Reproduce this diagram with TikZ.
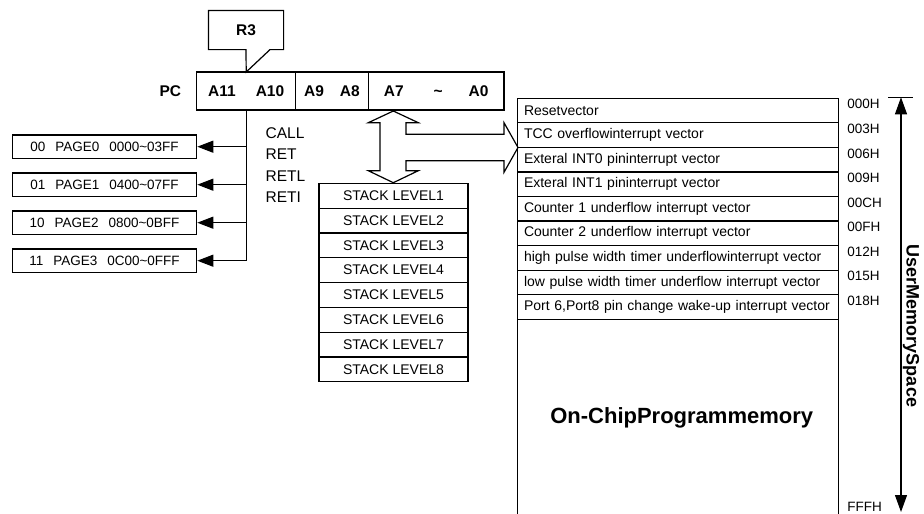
\documentclass[tikz,border=0pt]{standalone}
\usepackage{fontspec}
\setmainfont{Liberation Sans}
\usetikzlibrary{positioning,arrows.meta}

\begin{document}
\begin{tikzpicture}[
  x=1pt, y=-1pt,
  line width=1.2pt,
  reg/.style={draw, minimum height=38pt, inner sep=0pt, outer sep=0pt,
              font=\fontsize{15.5}{18}\selectfont\bfseries},
  reglbl/.style={inner sep=0pt, font=\fontsize{15.5}{18}\selectfont\bfseries},
  pagebox/.style={draw, minimum width=184.4pt, minimum height=23.3pt, inner sep=0pt,
              font=\fontsize{13.5}{15}\selectfont},
  stackrow/.style={draw, minimum width=149pt, minimum height=24.8pt, inner sep=0pt,
              outer sep=0pt, font=\fontsize{14}{16}\selectfont},
  vecrow/.style={draw, text width=307.6pt, inner xsep=6.7pt, inner ysep=0pt,
              minimum height=24.55pt, outer sep=0pt, align=left,
              font=\fontsize{14}{16}\selectfont},
  addr/.style={anchor=west, inner sep=0pt, font=\fontsize{13.5}{16}\selectfont},
  arr/.style={-{Triangle[length=16pt,width=12pt]}},
  uarr/.style={{Triangle[length=17pt,width=12pt]}-{Triangle[length=17pt,width=12pt]}},
  node distance=0pt]

\useasboundingbox (0,0) rectangle (924,514);

% program counter
\node[reg, minimum width=99pt, anchor=north west] (f1) at (196.7,72) {A11\hspace{20pt}A10};
\node[reg, minimum width=72.6pt, right=of f1] (f2) {A9\hspace{16pt}A8};
\node[reg, minimum width=135.7pt, right=of f2] (f3) {A7\hspace{30pt}\textasciitilde\hspace{26pt}A0};
\node[reglbl, left=15pt of f1] (pclbl) {PC};

% R3 callout
\node[reglbl, minimum width=74pt, minimum height=38pt] (r3) at (246,30) {R3};
\draw (r3.south west) -- (r3.north west) -- (r3.north east) -- (r3.south east)
  -- ([xshift=24pt]r3.south) -- (f1.north) -- (r3.south) -- cycle;

% pages
\node[pagebox] (pg0) at (104.5,146.7) {00\hspace{10pt}PAGE0\hspace{10pt}0000\textasciitilde 03FF};
\node[pagebox, below=13.5pt of pg0] (pg1) {01\hspace{10pt}PAGE1\hspace{10pt}0400\textasciitilde 07FF};
\node[pagebox, below=13.5pt of pg1] (pg2) {10\hspace{10pt}PAGE2\hspace{10pt}0800\textasciitilde 0BFF};
\node[pagebox, below=13.5pt of pg2] (pg3) {11\hspace{10pt}PAGE3\hspace{10pt}0C00\textasciitilde 0FFF};

\node[anchor=west, inner sep=0pt, align=left,
      font=\fontsize{15.5}{21.3}\selectfont] (instr) at (265,165) {CALL\\RET\\RETL\\RETI};

% stack
\node[stackrow, anchor=north] (st1) at (393.5,183.3) {STACK LEVEL1};
\node[stackrow, below=of st1] (st2) {STACK LEVEL2};
\node[stackrow, below=of st2] (st3) {STACK LEVEL3};
\node[stackrow, below=of st3] (st4) {STACK LEVEL4};
\node[stackrow, below=of st4] (st5) {STACK LEVEL5};
\node[stackrow, below=of st5] (st6) {STACK LEVEL6};
\node[stackrow, below=of st6] (st7) {STACK LEVEL7};
\node[stackrow, below=of st7] (st8) {STACK LEVEL8};

% vector table
\node[vecrow, anchor=north west] (v1) at (517.3,98.3) {Resetvector};
\node[vecrow, below=of v1] (v2) {TCC overflowinterrupt vector};
\node[vecrow, below=of v2] (v3) {Exteral INT0 pininterrupt vector};
\node[vecrow, below=of v3] (v4) {Exteral INT1 pininterrupt vector};
\node[vecrow, below=of v4] (v5) {Counter 1 underflow interrupt vector};
\node[vecrow, below=of v5] (v6) {Counter 2 underflow interrupt vector};
\node[vecrow, below=of v6] (v7) {high pulse width timer underflowinterrupt vector};
\node[vecrow, below=of v7] (v8) {low pulse width timer underflow interrupt vector};
\node[vecrow, below=of v8] (v9) {Port 6,Port8 pin change wake-up interrupt vector};
\draw (v9.south west) -- ++(0,210);
\draw (v9.south east) -- ++(0,210);
\node[font=\fontsize{22}{24}\selectfont\bfseries] (prog) at (681.7,418) {On-ChipProgrammemory};

% addresses
\node[addr] (a1) at ([xshift=8.4pt,yshift=-6pt]v1.north east) {000H};
\node[addr] (a2) at ([xshift=8.4pt,yshift=-6pt]v2.north east) {003H};
\node[addr] (a3) at ([xshift=8.4pt,yshift=-6pt]v3.north east) {006H};
\node[addr] (a4) at ([xshift=8.4pt,yshift=-6pt]v4.north east) {009H};
\node[addr] (a5) at ([xshift=8.4pt,yshift=-6pt]v5.north east) {00CH};
\node[addr] (a6) at ([xshift=8.4pt,yshift=-6pt]v6.north east) {00FH};
\node[addr] (a7) at ([xshift=8.4pt,yshift=-6pt]v7.north east) {012H};
\node[addr] (a8) at ([xshift=8.4pt,yshift=-6pt]v8.north east) {015H};
\node[addr] (a9) at ([xshift=8.4pt,yshift=-6pt]v9.north east) {018H};
\node[addr] (aend) at (846.7,506.5) {FFFH};

% user memory space
\coordinate (utop) at (901,97.3);
\coordinate (ubot) at (901,512);
\draw (888,97.3) -- (913,97.3);
\draw[uarr] (utop) -- (ubot);
\node[rotate=-90, font=\fontsize{18}{20}\selectfont\bfseries] (ums) at (911,326) {UserMemorySpace};

% block arrows
\draw[fill=white] (393.3,111) -- (418.3,122.7) -- (406,122.7) -- (406,134.3) -- (504,134.3)
  -- (504,122.7) -- (518,147.5) -- (504,172.3) -- (504,160.7) -- (406,160.7)
  -- (406,170.7) -- (418.3,170.7) -- (393.3,182.7) -- (368.3,170.7) -- (380,170.7)
  -- (380,122.7) -- (368.3,122.7) -- cycle;

% page select
\draw (f1.south) -- (f1.south |- pg3.east);
\draw[arr] (f1.south |- pg0.east) -- (pg0.east);
\draw[arr] (f1.south |- pg1.east) -- (pg1.east);
\draw[arr] (f1.south |- pg2.east) -- (pg2.east);
\draw[arr] (f1.south |- pg3.east) -- (pg3.east);
\end{tikzpicture}
\end{document}
